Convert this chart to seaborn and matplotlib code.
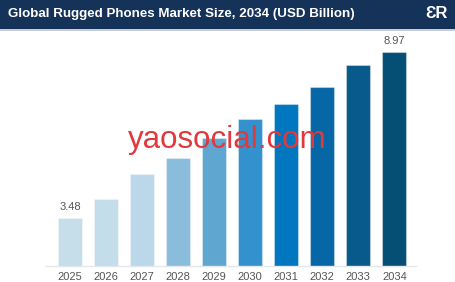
import matplotlib
matplotlib.use("Agg")
import matplotlib.pyplot as plt
import matplotlib.patches as mpatches
import seaborn as sns
import pandas as pd

years = ["2025", "2026", "2027", "2028", "2029", "2030", "2031", "2032", "2033", "2034"]
values = [3.48, 4.11, 4.93, 5.47, 6.11, 6.73, 7.24, 7.79, 8.53, 8.97]
bar_colors = ["#C6DDEA", "#C4DDEB", "#BBD8EA", "#8ABCDB", "#5FA6D1",
              "#3391CD", "#0077BE", "#0767A6", "#075A8A", "#064F74"]
title = "Global Rugged Phones Market Size, 2034 (USD Billion)"
labeled = {"2025": "3.48", "2034": "8.97"}

sns.set_theme(style="white")
plt.rcParams["font.family"] = ["Liberation Sans", "DejaVu Sans"]

df = pd.DataFrame({"year": years, "value": values})

fig = plt.figure(figsize=(4.55, 2.82), dpi=100)
fig.patch.set_facecolor("white")

# title bar
fig.patches.append(mpatches.Rectangle((0, 1 - 29 / 282), 1, 29 / 282, transform=fig.transFigure,
                                      facecolor="#153359", edgecolor="none", zorder=0))
fig.patches.append(mpatches.Rectangle((0, 1 - 30.5 / 282), 1, 1.5 / 282, transform=fig.transFigure,
                                      facecolor="#C9CED6", edgecolor="none", zorder=0))
fig.text(8 / 455, 1 - 14.5 / 282, title, color="white", fontsize=9.6, fontweight="bold",
         va="center", ha="left")
fig.text(436 / 455, 1 - 14 / 282, "ƐR", color="white", fontsize=12, fontweight="bold",
         va="center", ha="center")

ax = fig.add_axes([45 / 455, 1 - 266 / 282, (416 - 45) / 455, (266 - 35) / 282])
sns.barplot(data=df, x="year", y="value", hue="year", palette=bar_colors, legend=False,
            width=0.667, saturation=1, ax=ax, edgecolor=(1, 1, 1, 0.35), linewidth=0.8)

ax.set_xlim(-0.69, 9.6)
ax.set_ylim(1.885, 9.52)
ax.set_xlabel("")
ax.set_ylabel("")
ax.set_yticks([])
for s in ["left", "right", "top"]:
    ax.spines[s].set_visible(False)
ax.spines["bottom"].set_color("#E3E6EA")
ax.spines["bottom"].set_linewidth(1)
ax.tick_params(axis="x", length=0, pad=4, labelsize=8, labelcolor="#555555")

for i, (y, v) in enumerate(zip(years, values)):
    if y in labeled:
        ax.text(i, v + 0.2, labeled[y], ha="center", va="bottom", fontsize=8, color="#555555")

fig.text(227 / 455, 1 - 140 / 282, "yaosocial.com", color="#E0393E", fontsize=22.5,
         ha="center", va="center", zorder=10)

fig.savefig("out.png", dpi=100)
